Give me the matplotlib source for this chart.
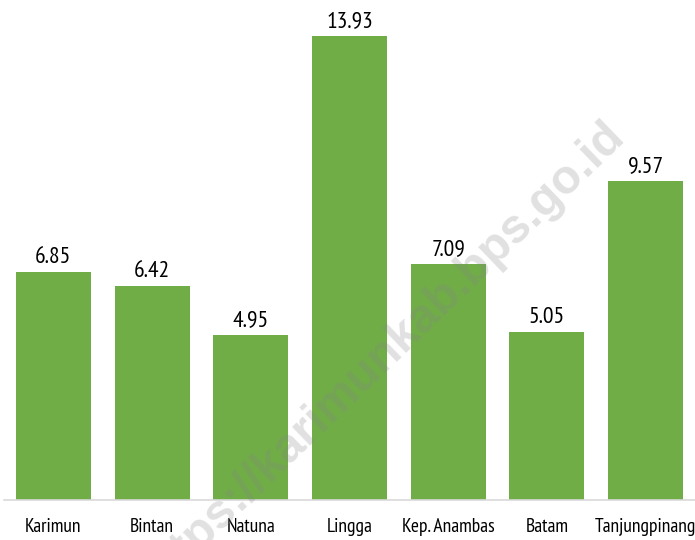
import matplotlib
matplotlib.use("Agg")
import matplotlib.pyplot as plt
from matplotlib import font_manager

# regional values per kabupaten/kota
regions = ["Karimun", "Bintan", "Natuna", "Lingga", "Kep. Anambas", "Batam", "Tanjungpinang"]
values = [6.85, 6.42, 4.95, 13.93, 7.09, 5.05, 9.57]

names = {f.name for f in font_manager.fontManager.ttflist}
narrow = "DejaVu Sans"
for cand in ["PT Sans Narrow", "Fira Sans Extra Condensed", "Liberation Sans Narrow"]:
    if cand in names:
        narrow = cand
        break

fig = plt.figure(figsize=(6.95, 5.4), dpi=100)
ax = fig.add_axes([4 / 695, 40 / 540, 691 / 695, 500 / 540])

x = range(len(regions))
bars = ax.bar(x, values, width=0.76, color="#70AD47", zorder=2)
for b, v in zip(bars, values):
    ax.text(b.get_x() + b.get_width() / 2, v + 0.27, f"{v:.2f}",
            ha="center", va="baseline", fontsize=17, family=narrow,
            color="#000000", zorder=5)

ax.set_xlim(-0.5, len(regions) - 0.5)
ax.set_ylim(0, 15)
ax.set_xticks(list(x))
ax.set_xticklabels(regions, fontsize=14, family=narrow, color="#000000")
ax.tick_params(axis="x", length=0, pad=13)
ax.set_yticks([])
for s in ["top", "right", "left"]:
    ax.spines[s].set_visible(False)
ax.spines["bottom"].set_color("#d9d9d9")
ax.spines["bottom"].set_linewidth(1.2)

# watermark, semi-transparent over the bars
fig.text(0.549, 0.340, "https://karimunkab.bps.go.id", rotation=44,
         ha="center", va="center", fontsize=34.5, fontweight="bold",
         family="Liberation Sans", color="#868686", alpha=0.25, zorder=3)

fig.savefig("out.png", dpi=100)
